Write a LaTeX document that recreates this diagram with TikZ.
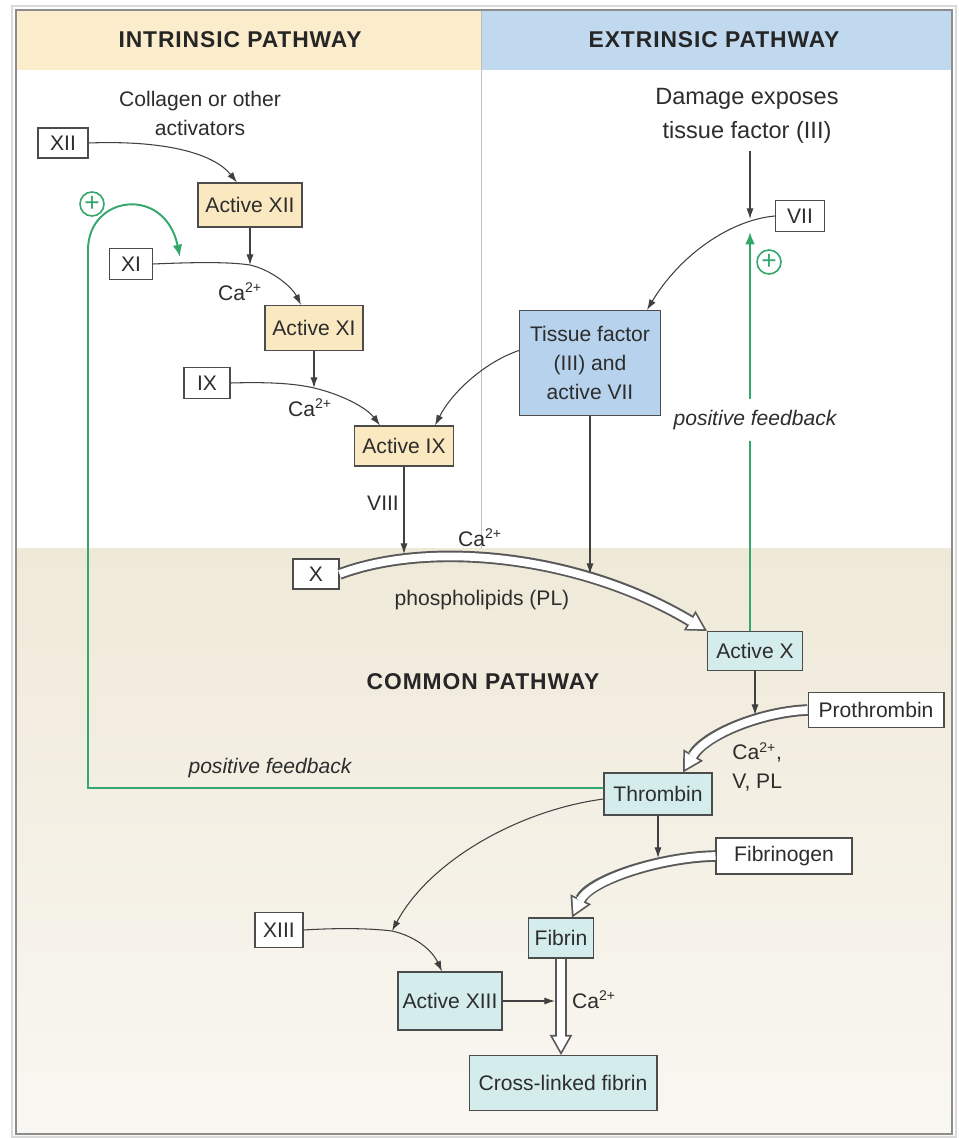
\documentclass[tikz,border=0pt]{standalone}
\usepackage{fontspec}
\setmainfont{Liberation Sans}
\usetikzlibrary{arrows.meta}
\definecolor{intrhead}{RGB}{251,236,204}
\definecolor{extrhead}{RGB}{192,217,238}
\definecolor{intrbox}{RGB}{250,232,192}
\definecolor{tfbox}{RGB}{182,210,236}
\definecolor{combox}{RGB}{212,236,236}
\definecolor{comtop}{RGB}{239,233,216}
\definecolor{commid}{RGB}{243,238,226}
\definecolor{combot}{RGB}{249,247,242}
\definecolor{fbgreen}{RGB}{52,168,108}
\definecolor{txt}{RGB}{45,45,45}
\tikzset{
  bx/.style={draw=black!70, line width=0.6pt, text=txt, inner sep=0pt, align=center, font=\fontsize{12}{16.5}\selectfont},
  wbox/.style={bx, fill=white},
  ibox/.style={bx, fill=intrbox},
  ebox/.style={bx, fill=tfbox},
  cbox/.style={bx, fill=combox},
  lbl/.style={text=txt, inner sep=0pt, align=center, font=\fontsize{12}{16.5}\selectfont},
  fblbl/.style={text=txt, inner sep=0pt, font=\fontsize{12}{14}\selectfont\itshape},
  hdr/.style={text=black!85, inner sep=0pt, font=\fontsize{13}{15}\selectfont\bfseries\addfontfeature{LetterSpace=4}},
  conn/.style={draw=black!75, line width=0.6pt, -{Latex[length=6pt,width=4pt]}},
  fb/.style={draw=fbgreen, line width=1.1pt},
  fbarrow/.style={fb, -{Latex[length=7pt,width=5.5pt]}},
  plusc/.style={circle, draw=fbgreen, line width=0.9pt, text=fbgreen, minimum size=0.48cm, inner sep=0pt, font=\fontsize{15}{15}\selectfont},
  hollow/.style={draw=white, line width=4.4pt, shorten >=2pt,
    -{Triangle[length=8.5pt,width=9.6pt,line width=0pt,fill=white,color=white]},
    preaction={draw=black!65, line width=6.6pt, shorten >=0pt,
      -{Triangle[length=11.5pt,width=13pt,line width=0pt,color=black!65,fill=black!65]}}}
}
\begin{document}
\begin{tikzpicture}[x=0.02cm, y=-0.02cm]
\useasboundingbox (0,0) rectangle (959,1138);
% backgrounds
\fill[white] (0,0) rectangle (959,1138);
\fill[intrhead] (16,10) rectangle (481,70);
\fill[extrhead] (481,10) rectangle (952,70);
\shade[top color=comtop, middle color=commid, bottom color=combot] (16,548) rectangle (952,1135);
\draw[black!25, line width=0.5pt] (481,10) -- (481,548);
\draw[black!15, line width=1pt] (12,6) rectangle (956,1137);
\draw[black!45, line width=1.5pt] (16,10) rectangle (952,1134);

% headers
\node[hdr] (hI) at (240,40) {INTRINSIC PATHWAY};
\node[hdr] (hE) at (714,40) {EXTRINSIC PATHWAY};
\node[hdr] (hC) at (483,682) {COMMON PATHWAY};

% text labels
\node[lbl] (coll) at (200,113) {Collagen or other\\activators};
\node[lbl, font=\fontsize{13.4}{19}\selectfont] (dmg) at (747,116) {Damage exposes\\tissue factor (III)};
\node[lbl] (ca1) at (240,292) {Ca\textsuperscript{2+}};
\node[lbl] (ca2) at (310,408) {Ca\textsuperscript{2+}};
\node[lbl] (viii) at (383,503) {VIII};
\node[lbl] (ca3) at (480,538) {Ca\textsuperscript{2+}};
\node[lbl] (pl) at (482,600) {phospholipids (PL)};
\node[lbl, align=left, anchor=west] (cavpl) at (732,767) {Ca\textsuperscript{2+},\\V, PL};
\node[lbl] (ca4) at (594,1000) {Ca\textsuperscript{2+}};
\node[fblbl] (pfL) at (270,768) {positive feedback};
\node[fblbl, minimum height=0.82cm] (pfR) at (755,420) {positive feedback};

% boxes
\node[wbox, minimum width=1.0cm, minimum height=0.6cm] (XII) at (63,143) {XII};
\node[ibox, minimum width=2.08cm, minimum height=0.88cm] (aXII) at (250,205) {Active XII};
\node[wbox, minimum width=0.86cm, minimum height=0.62cm] (XI) at (131,264) {XI};
\node[ibox, minimum width=1.96cm, minimum height=0.9cm] (aXI) at (314,328) {Active XI};
\node[wbox, minimum width=0.92cm, minimum height=0.62cm] (IX) at (207,383) {IX};
\node[ibox, minimum width=1.98cm, minimum height=0.8cm] (aIX) at (404,446) {Active IX};
\node[wbox, minimum width=0.92cm, minimum height=0.6cm] (X) at (316,574) {X};
\node[ebox, minimum width=2.82cm, minimum height=2.1cm] (TF) at (590,363) {Tissue factor\\(III) and\\active VII};
\node[wbox, minimum width=0.98cm, minimum height=0.62cm] (VII) at (800,216) {VII};
\node[cbox, minimum width=1.9cm, minimum height=0.78cm] (aX) at (755,651) {Active X};
\node[wbox, minimum width=2.72cm, minimum height=0.7cm] (Pro) at (876,710) {Prothrombin};
\node[cbox, minimum width=2.16cm, minimum height=0.84cm] (Thr) at (658,794) {Thrombin};
\node[wbox, minimum width=2.72cm, minimum height=0.72cm] (Fbg) at (784,856) {Fibrinogen};
\node[wbox, minimum width=0.96cm, minimum height=0.7cm] (XIII) at (279,930) {XIII};
\node[cbox, minimum width=1.3cm, minimum height=0.8cm] (Fib) at (561,938) {Fibrin};
\node[cbox, minimum width=2.08cm, minimum height=1.16cm] (aXIII) at (450,1001) {Active XIII};
\node[cbox, minimum width=3.76cm, minimum height=1.1cm] (XL) at (563,1083) {Cross-linked fibrin};

% feedback plus signs
\node[plusc] (p1) at (92,204) {+};
\node[plusc] (p2) at (769,262) {+};

% points on curves
\coordinate (c1) at (250,265);
\coordinate (c2) at (314,388);
\coordinate (c3) at (404,554);
\coordinate (c4) at (590,574);
\coordinate (c5) at (750,219);
\coordinate (c6) at (755,715);
\coordinate (c7) at (658,858);
\coordinate (c8) at (392,931);
\coordinate (c9) at (555,1001);
\coordinate (g1) at (750,232);
\coordinate (g2) at (180,257);

% hollow arrows
\draw[hollow] (X.east) .. controls (430,540) and (580,555) .. (aX.north west);
\draw[hollow] (Pro.west) .. controls (760,712) and (705,735) .. ([xshift=0.5cm]Thr.north);
\draw[hollow] (Fbg.west) .. controls (660,857) and (590,880) .. ([xshift=0.22cm]Fib.north);
\draw[hollow] (Fib.south) -- (Fib.south |- XL.north);

% intrinsic
\draw[conn] (XII.east) .. controls (170,140) and (215,155) .. ([xshift=-0.26cm]aXII.north);
\draw[conn] (XI.east) .. controls (200,262) and (230,262) .. (c1) .. controls (272,270) and (292,287) .. ([xshift=-0.26cm]aXI.north);
\draw[conn] (aXII.south) -- (c1);
\draw[conn] (IX.east) .. controls (265,382) and (293,383) .. (c2) .. controls (340,394) and (366,407) .. ([xshift=-0.48cm]aIX.north);
\draw[conn] (aXI.south) -- (c2);
\draw[conn] (TF.170) .. controls (485,362) and (452,392) .. ([xshift=0.62cm]aIX.north);
\draw[conn] (aIX.south) -- (c3);
\draw[conn] (TF.south) -- (c4);

% extrinsic
\draw[conn] (VII.west) .. controls (730,220) and (680,255) .. ([xshift=1.14cm]TF.north);
\draw[conn, shorten <=4pt] (dmg.south -| c5) -- (c5);

% common
\draw[conn] (aX.south) -- (c6);
\draw[conn] (Thr.south) -- (c7);
\draw[conn] ([yshift=-0.1cm]Thr.west) .. controls (520,810) and (430,860) .. (c8);
\draw[conn] (XIII.east) .. controls (335,928) and (368,928) .. (c8) .. controls (415,936) and (432,950) .. ([xshift=-0.16cm]aXIII.north);
\draw[conn] (aXIII.east) -- (c9);

% feedback
\draw[fb] ([xshift=-0.1cm]aX.north) -- (pfR.south -| g1);
\draw[fbarrow] (pfR.north -| g1) -- (g1);
\draw[fbarrow] ([yshift=0.12cm]Thr.west) -| (88,250) .. controls (88,195) and (165,185) .. (g2);
\end{tikzpicture}
\end{document}
